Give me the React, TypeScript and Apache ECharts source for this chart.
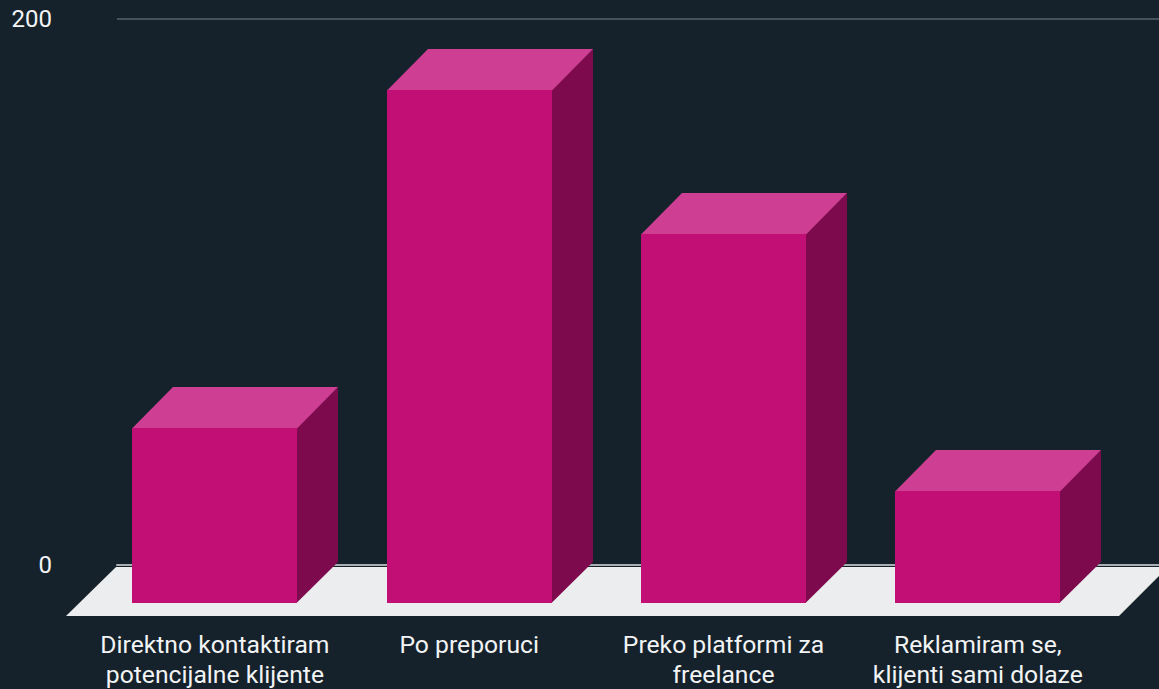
import React, { useEffect, useRef } from "react";
import * as echarts from "echarts";

const categories = [
  "Direktno kontaktiram\npotencijalne klijente",
  "Po preporuci",
  "Preko platformi za\nfreelance",
  "Reklamiram se,\nklijenti sami dolaze",
];
const values = [64.5, 188.7, 135.5, 41.1];
const yMin = 0;
const yMax = 200;

const BG = "#16222b";
const FRONT = "#c10f75";
const TOP = "#ce3f93";
const SIDE = "#7d0a4c";
const FLOOR = "#ecedee";
const TEXT = "#f2f4f5";
const FONT = "Roboto";
const DEPTH = 41;

function renderBar(params: any, api: any) {
  const cat = api.value(0);
  const val = api.value(1);
  const top = api.coord([cat, val]);
  const base = api.coord([cat, 0]);
  const w = Math.round(api.size([1, 0])[0] * 0.648);
  const l = Math.round(top[0] - w / 2);
  const r = l + w;
  const t = Math.round(top[1]);
  const b = Math.round(base[1]);
  return {
    type: "group",
    children: [
      {
        type: "polygon",
        shape: { points: [[r - 0.5, t], [r + DEPTH, t - DEPTH], [r + DEPTH, b - DEPTH], [r - 0.5, b]] },
        style: { fill: SIDE },
      },
      {
        type: "polygon",
        shape: { points: [[l, t + 0.5], [l + DEPTH, t - DEPTH], [r + DEPTH, t - DEPTH], [r, t + 0.5]] },
        style: { fill: TOP },
      },
      {
        type: "polygon",
        shape: { points: [[l, t], [r, t], [r, b], [l, b]] },
        style: { fill: FRONT },
      },
    ],
  };
}

export default function App() {
  const ref = useRef<HTMLDivElement>(null);
  useEffect(() => {
    document.body.style.margin = "0";
    document.body.style.background = BG;
    const chart = echarts.init(ref.current!, undefined, { renderer: "svg" });
    chart.setOption({
      animation: false,
      backgroundColor: BG,
      graphic: [
        {
          type: "polygon",
          z: 1,
          shape: { points: [[66, 616], [116, 567], [1168, 567], [1119, 616]] },
          style: { fill: FLOOR },
        },
      ],
      grid: [
        { left: 117, top: 19, width: 1042, height: 546 },
        { left: 87.75, top: 59, width: 1017.2, height: 545 },
      ],
      xAxis: [
        {
          gridIndex: 0,
          type: "category",
          data: categories,
          axisTick: { show: false },
          axisLabel: { show: false },
          axisLine: { show: true, onZero: false, lineStyle: { color: "#a9afb3", width: 2 } },
        },
        {
          gridIndex: 1,
          type: "category",
          data: categories,
          axisTick: { show: false },
          axisLine: { show: false },
          axisLabel: {
            interval: 0,
            color: TEXT,
            fontFamily: FONT,
            fontSize: 24.7,
            lineHeight: 30,
            margin: 26,
          },
        },
      ],
      yAxis: [
        {
          gridIndex: 0,
          type: "value",
          min: yMin,
          max: yMax,
          interval: 200,
          axisLine: { show: false },
          axisTick: { show: false },
          axisLabel: { color: TEXT, fontFamily: FONT, fontSize: 24, margin: 65 },
          splitLine: { show: true, lineStyle: { color: "#46525a", width: 2 } },
        },
        {
          gridIndex: 1,
          type: "value",
          min: yMin,
          max: yMax,
          interval: 200,
          show: false,
          splitLine: { show: false },
        },
      ],
      series: [
        {
          type: "custom",
          xAxisIndex: 1,
          yAxisIndex: 1,
          z: 5,
          clip: false,
          silent: true,
          data: values.map((v, i) => [i, v]),
          encode: { x: 0, y: 1 },
          renderItem: renderBar,
        },
      ],
    });
    return () => chart.dispose();
  }, []);
  return (
    <div
      ref={ref}
      style={{ position: "absolute", left: 0, top: 0, width: 1159, height: 689 }}
    />
  );
}
